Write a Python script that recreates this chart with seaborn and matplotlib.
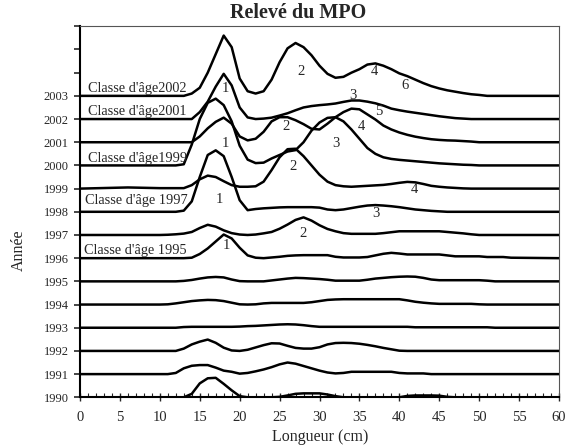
import pandas as pd
import seaborn as sns
import matplotlib.pyplot as plt
from matplotlib.ticker import MultipleLocator

# Relevé du MPO : distributions de longueur par année (hauteur en unités d'année)
longueurs = [0, 6] + list(range(10, 55)) + [60]
annees = list(range(1990, 2004))

#        0  6 | 10 ... 19                                           | 20 ... 29                                        | 30 ... 39                                         | 40 ... 49                                          | 50 ... 54           | 60
h1990 = [0, 0, 0, 0, 0, 0, 0.15, 0.6, 0.82, 0.84, 0.58, 0.3, 0.05, 0, 0, 0, 0, 0.02, 0.08, 0.15, 0.17, 0.17, 0.17, 0.12, 0.05, 0, 0, 0, 0, 0, 0, 0, 0, 0.06, 0.08, 0.08, 0.08, 0.07, 0.02, 0, 0, 0, 0, 0, 0, 0, 0, 0]
h1991 = [0, 0, 0, 0, 0.05, 0.25, 0.36, 0.39, 0.39, 0.28, 0.15, 0.1, 0.02, 0.05, 0.12, 0.2, 0.3, 0.42, 0.5, 0.45, 0.35, 0.25, 0.15, 0.07, 0.03, 0.05, 0.1, 0.1, 0.1, 0.1, 0.1, 0.1, 0.05, 0.03, 0.03, 0.03, 0, 0, 0, 0, 0, 0, 0, 0, 0, 0, 0, 0]
h1992 = [0, 0, 0, 0, 0, 0.1, 0.28, 0.4, 0.49, 0.35, 0.14, 0.02, 0, 0.05, 0.15, 0.25, 0.33, 0.32, 0.22, 0.13, 0.1, 0.1, 0.16, 0.28, 0.34, 0.35, 0.34, 0.31, 0.26, 0.2, 0.13, 0.07, 0.01, 0, 0, 0, 0, 0, 0, 0, 0, 0, 0, 0, 0, 0, 0, 0]
h1993 = [0, 0, 0, 0, 0, 0.03, 0.04, 0.04, 0.04, 0.04, 0.04, 0.04, 0.05, 0.07, 0.08, 0.1, 0.12, 0.14, 0.15, 0.14, 0.11, 0.07, 0.04, 0.04, 0.04, 0.04, 0.04, 0.04, 0.04, 0.04, 0.04, 0.04, 0.04, 0.04, 0.02, 0.02, 0.02, 0.02, 0.02, 0.02, 0.02, 0.02, 0.02, 0.02, 0, 0, 0, 0]
h1994 = [0, 0, 0, 0.01, 0.05, 0.1, 0.15, 0.18, 0.2, 0.19, 0.15, 0.08, 0.01, 0, 0.01, 0.05, 0.07, 0.07, 0.07, 0.07, 0.07, 0.1, 0.15, 0.2, 0.22, 0.23, 0.23, 0.23, 0.23, 0.23, 0.23, 0.23, 0.23, 0.18, 0.12, 0.08, 0.05, 0.03, 0.03, 0.03, 0.03, 0.03, 0.01, 0, 0, 0, 0, 0]
h1995 = [0, 0, 0, 0, 0, 0.02, 0.06, 0.12, 0.17, 0.19, 0.17, 0.08, 0.01, 0, 0, 0, 0.04, 0.08, 0.12, 0.15, 0.14, 0.12, 0.1, 0.07, 0.03, 0.03, 0.03, 0.03, 0.07, 0.12, 0.15, 0.18, 0.2, 0.21, 0.2, 0.15, 0.08, 0.05, 0.05, 0.05, 0.05, 0.05, 0.05, 0.03, 0, 0, 0, 0]
h1996 = [0, 0, 0, 0, 0, 0, 0.02, 0.18, 0.42, 0.72, 1.02, 0.85, 0.45, 0.12, 0.02, 0, 0.03, 0.06, 0.1, 0.12, 0.13, 0.13, 0.13, 0.13, 0.06, 0.03, 0.03, 0.03, 0.05, 0.12, 0.19, 0.23, 0.2, 0.16, 0.16, 0.16, 0.16, 0.16, 0.12, 0.08, 0.08, 0.08, 0.08, 0.05, 0.05, 0.05, 0.02, 0]
h1997 = [0, 0, 0, 0.01, 0.03, 0.06, 0.13, 0.3, 0.44, 0.36, 0.2, 0.08, 0.02, 0, 0.02, 0.07, 0.13, 0.27, 0.45, 0.65, 0.76, 0.62, 0.42, 0.26, 0.16, 0.08, 0.05, 0.05, 0.05, 0.05, 0.08, 0.12, 0.16, 0.16, 0.16, 0.16, 0.16, 0.16, 0.13, 0.1, 0.07, 0.03, 0, 0, 0, 0, 0, 0]
h1998 = [0, 0, 0, 0, 0, 0.05, 0.45, 1.5, 2.45, 2.65, 2.4, 1.5, 0.5, 0.07, 0.12, 0.15, 0.17, 0.19, 0.2, 0.2, 0.2, 0.2, 0.18, 0.1, 0.07, 0.1, 0.16, 0.22, 0.27, 0.29, 0.27, 0.24, 0.2, 0.15, 0.1, 0.07, 0.04, 0.02, 0, 0, 0, 0, 0, 0, 0, 0, 0, 0]
h1999 = [0, 0.05, 0.02, 0.02, 0.02, 0.02, 0.15, 0.4, 0.56, 0.5, 0.32, 0.15, 0.08, 0.08, 0.1, 0.3, 0.8, 1.35, 1.7, 1.72, 1.4, 1.0, 0.6, 0.3, 0.15, 0.1, 0.08, 0.1, 0.12, 0.14, 0.16, 0.2, 0.25, 0.29, 0.27, 0.2, 0.12, 0.08, 0.05, 0.03, 0.01, 0, 0, 0, 0, 0, 0, 0]
h2000 = [0, 0, 0, 0, 0, 0.05, 0.9, 2.0, 2.7, 2.88, 2.6, 1.9, 0.85, 0.25, 0.1, 0.12, 0.3, 0.45, 0.6, 0.66, 1.0, 1.5, 1.85, 2.05, 2.08, 1.9, 1.55, 1.15, 0.75, 0.5, 0.35, 0.28, 0.24, 0.21, 0.18, 0.15, 0.12, 0.09, 0.07, 0.05, 0.03, 0.02, 0, 0, 0, 0, 0, 0]
h2001 = [0, 0, 0, 0, 0, 0, 0, 0.25, 0.6, 0.88, 1.06, 0.8, 0.25, 0.08, 0.15, 0.45, 0.9, 1.08, 1.08, 0.95, 0.78, 0.58, 0.55, 0.8, 1.08, 1.3, 1.45, 1.42, 1.2, 0.98, 0.72, 0.55, 0.42, 0.32, 0.24, 0.18, 0.13, 0.1, 0.08, 0.07, 0.05, 0.03, 0, 0, 0, 0, 0, 0]
h2002 = [0, 0, 0, 0, 0, 0, 0, 0.3, 0.75, 1.4, 1.95, 1.45, 0.5, 0.07, 0, 0.02, 0.06, 0.15, 0.25, 0.38, 0.5, 0.56, 0.6, 0.63, 0.67, 0.74, 0.8, 0.8, 0.75, 0.68, 0.58, 0.45, 0.38, 0.32, 0.27, 0.22, 0.17, 0.12, 0.08, 0.04, 0.02, 0, 0, 0, 0, 0, 0, 0]
h2003 = [0, 0, 0, 0, 0, 0, 0.1, 0.35, 1.0, 1.8, 2.6, 2.1, 0.75, 0.2, 0.1, 0.2, 0.7, 1.45, 2.05, 2.28, 2.1, 1.75, 1.3, 0.95, 0.78, 0.82, 1.0, 1.15, 1.35, 1.4, 1.3, 1.15, 0.97, 0.85, 0.7, 0.55, 0.42, 0.32, 0.24, 0.18, 0.12, 0.07, 0.04, 0, 0, 0, 0, 0]
hauteurs = [h1990, h1991, h1992, h1993, h1994, h1995, h1996,
            h1997, h1998, h1999, h2000, h2001, h2002, h2003]

# étiquettes des classes d'âge et des âges
classes_txt = ["Classe d'âge2002", "Classe d'âge2001", "Classe d'âge1999",
               "Classe d'âge 1997", "Classe d'âge 1995"]
classes_x = [1.0, 1.0, 1.0, 0.6, 0.5]
classes_y = [2003.33, 2002.31, 2000.30, 1998.50, 1996.35]

ages_txt = ["2", "4", "6", "3", "1", "5", "2", "4", "1", "3", "2", "4", "1", "3", "2", "1"]
ages_x = [27.7, 36.9, 40.75, 34.2, 18.25, 37.4, 25.8, 35.2, 18.25, 32.1, 26.7, 41.9, 17.4, 37.1, 27.9, 18.3]
ages_y = [2004.03, 2004.03, 2003.46, 2003.03, 2003.33, 2002.31, 2001.67, 2001.66,
          2000.95, 2000.95, 1999.94, 1998.98, 1998.55, 1997.93, 1997.07, 1996.56]

rows = []
for an, h in zip(annees, hauteurs):
    for L, v in zip(longueurs, h):
        rows.append({"Longueur": L, "Année": an, "y": an + v})
df = pd.DataFrame(rows)

sns.set_style("ticks")
plt.rcParams['font.family'] = ['Liberation Serif', 'DejaVu Serif']

fig = plt.figure(figsize=(5.72, 4.46), dpi=100)
ax = fig.add_axes([80 / 572, 1 - 397.3 / 446, 479 / 572, 371 / 446])

sns.lineplot(data=df, x="Longueur", y="y", units="Année", estimator=None,
             color="black", lw=1.8, ax=ax, legend=False, sort=False)

for t, x, y in zip(classes_txt, classes_x, classes_y):
    ax.text(x, y, t, fontsize=10.3, ha="left", va="center")
for t, x, y in zip(ages_txt, ages_x, ages_y):
    ax.text(x, y, t, fontsize=10.5, ha="center", va="center")

ax.set_xlim(0, 60)
ax.set_ylim(1990, 2006)
ax.set_xticks(range(0, 61, 5))
ax.xaxis.set_minor_locator(MultipleLocator(1))
ax.set_yticks(range(1990, 2007))
ax.set_yticklabels([str(a) if a <= 2003 else "" for a in range(1990, 2007)])
ax.tick_params(axis="y", direction="out", length=4, width=1.2, labelsize=9, pad=4)
ax.tick_params(axis="x", which="major", direction="inout", length=6, width=1.0,
               labelsize=10.5, pad=7)
ax.tick_params(axis="x", which="minor", direction="in", length=3, width=0.8)
ax.set_xlabel("")
ax.set_ylabel("")

for s in ["left", "bottom"]:
    ax.spines[s].set_color("black")
    ax.spines[s].set_linewidth(1.5)
for s in ["top", "right"]:
    ax.spines[s].set_color("#555555")
    ax.spines[s].set_linewidth(0.8)

fig.text(298 / 572, 1 - 13 / 446, "Relevé du MPO", ha="center", va="center",
         fontsize=14.5, fontweight="bold")
fig.text(320 / 572, 1 - 437 / 446, "Longueur (cm)", ha="center", va="center", fontsize=11.5)
fig.text(19 / 572, 1 - 250 / 446, "Année", ha="center", va="center", fontsize=11.5,
         rotation=90)

fig.savefig("out.png", dpi=100)
